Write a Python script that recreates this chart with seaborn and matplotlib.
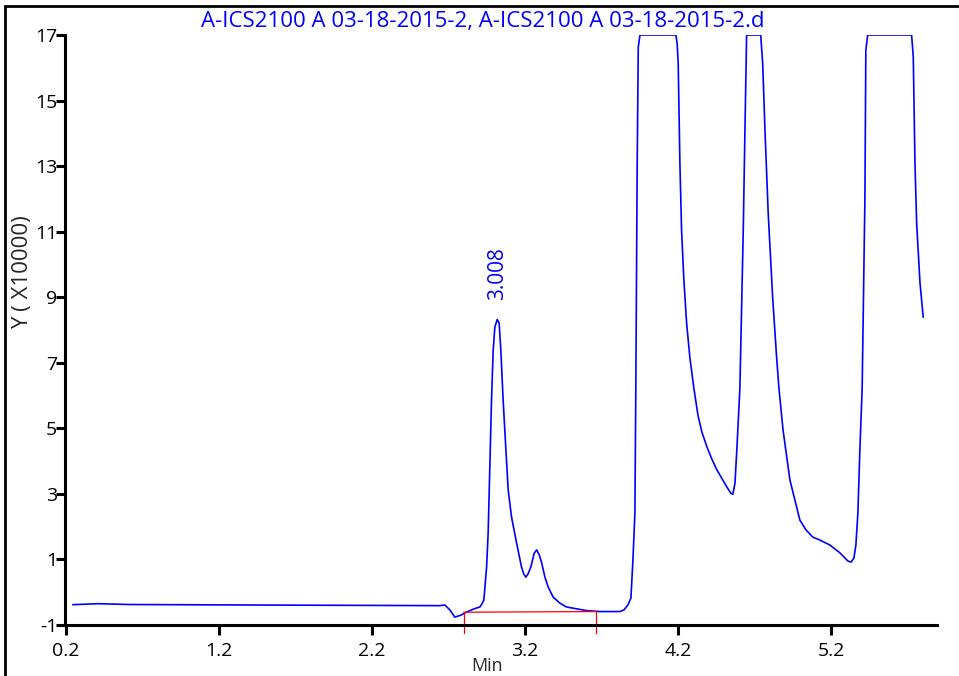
import matplotlib
matplotlib.use("Agg")
import matplotlib.pyplot as plt
import seaborn as sns
import pandas as pd
from matplotlib.patches import Rectangle

# ---- data ----
time_min = [0.246, 0.409, 0.618, 1.403, 2.383, 2.644, 2.677, 2.710, 2.742, 2.782,
            2.821, 2.867, 2.906, 2.919, 2.932, 2.950, 2.960, 2.971, 2.982, 2.993,
            3.004, 3.019, 3.032, 3.043, 3.058, 3.076, 3.091, 3.113, 3.146, 3.178,
            3.193, 3.206, 3.220, 3.239, 3.261, 3.277, 3.294, 3.310, 3.331, 3.352,
            3.385, 3.428, 3.471, 3.602, 3.690, 3.821, 3.847, 3.873, 3.893, 3.906,
            3.919, 3.925, 3.934, 3.941, 3.952, 4.187, 4.195, 4.202, 4.213, 4.224,
            4.239, 4.257, 4.278, 4.304, 4.331, 4.357, 4.390, 4.422, 4.455, 4.520,
            4.546, 4.559, 4.573, 4.586, 4.605, 4.627, 4.638, 4.649, 4.741, 4.754,
            4.769, 4.790, 4.819, 4.845, 4.860, 4.887, 4.932, 4.997, 5.037, 5.082,
            5.128, 5.193, 5.259, 5.311, 5.331, 5.350, 5.363, 5.376, 5.389, 5.404,
            5.422, 5.428, 5.440, 5.727, 5.738, 5.749, 5.760, 5.782, 5.803]
signal = [-0.38, -0.35, -0.375, -0.39, -0.405, -0.41, -0.39, -0.54, -0.76, -0.70,
          -0.60, -0.51, -0.45, -0.36, -0.24, 0.77, 1.80, 3.82, 5.86, 7.38,
          8.09, 8.32, 8.21, 7.38, 5.86, 4.34, 3.12, 2.29, 1.50, 0.77,
          0.55, 0.46, 0.55, 0.77, 1.19, 1.29, 1.14, 0.89, 0.46, 0.16,
          -0.15, -0.33, -0.45, -0.56, -0.59, -0.59, -0.54, -0.39, -0.18, 0.98,
          2.41, 6.23, 13.09, 16.63, 17.0, 17.0, 16.74, 16.13, 13.09, 11.04,
          9.52, 8.20, 7.17, 6.23, 5.40, 4.88, 4.43, 4.06, 3.73, 3.21,
          3.02, 2.99, 3.33, 4.43, 6.23, 11.04, 14.09, 17.0, 17.0, 16.13,
          14.09, 11.56, 9.00, 7.17, 6.23, 4.95, 3.42, 2.20, 1.90, 1.68,
          1.59, 1.44, 1.20, 0.95, 0.92, 1.04, 1.44, 2.41, 4.34, 6.23,
          12.05, 16.53, 17.0, 17.0, 16.33, 13.09, 11.26, 9.43, 8.39]

baseline_x = [2.80, 3.664]
baseline_y = [-0.61, -0.59]
baseline_drop = -1.24

peak_rt = 3.019
peak_height = 8.32
peak_label = "3.008"

x_ticks = [0.2, 1.2, 2.2, 3.2, 4.2, 5.2]
y_ticks = [-1, 1, 3, 5, 7, 9, 11, 13, 15, 17]

title = "A-ICS2100 A 03-18-2015-2, A-ICS2100 A 03-18-2015-2.d"
xlabel = "Min"
ylabel = "Y ( X10000)"

# ---- plot ----
sns.set_style("white")
plt.rcParams["font.family"] = ["Open Sans", "DejaVu Sans"]

W, H = 959, 676
fig = plt.figure(figsize=(W / 100, H / 100), dpi=100)
ax = fig.add_axes([65 / W, (H - 625) / H, (937 - 65) / W, (625 - 35) / H])

df = pd.DataFrame({"t": time_min, "y": signal})
sns.lineplot(data=df, x="t", y="y", ax=ax, color="#0000ff", linewidth=1.2,
             sort=False, estimator=None)

# red integration baseline
sns.lineplot(x=baseline_x, y=baseline_y, ax=ax, color="red", linewidth=0.9,
             sort=False, estimator=None)
for bx, by in zip(baseline_x, baseline_y):
    ax.plot([bx, bx], [by, baseline_drop], color="red", linewidth=0.9, clip_on=False)

ax.annotate(peak_label, xy=(peak_rt, peak_height), xytext=(0, 14),
            textcoords="offset points", rotation=90, ha="center", va="bottom",
            color="#0000ff", fontsize=15)

ax.set_xlim(0.195, 5.893)
ax.set_ylim(-1, 17)
ax.set_xticks(x_ticks)
ax.set_xticklabels([f"{v:.1f}" for v in x_ticks])
ax.set_yticks(y_ticks)
ax.set_yticklabels([str(v) for v in y_ticks])
ax.set_xlabel("")
ax.set_ylabel("")

for s in ["top", "right"]:
    ax.spines[s].set_visible(False)
for s in ["left", "bottom"]:
    ax.spines[s].set_color("black")
    ax.spines[s].set_linewidth(2.2)

ax.tick_params(axis="x", direction="out", length=7, width=2.2, pad=5,
               labelsize=14, colors="black", bottom=True)
ax.tick_params(axis="y", direction="out", length=6.5, width=2.2, pad=-1,
               labelsize=14, colors="black", left=True)

fig.text(483 / W, (H - 22) / H, title, ha="center", va="center",
         color="#0000ff", fontsize=16)
fig.text(487 / W, 1 / H, xlabel, ha="center", va="bottom", fontsize=13)
fig.text(23 / W, (H - 272) / H, ylabel, ha="center", va="center",
         rotation=90, fontsize=16)

# outer frame (extends beyond the right and bottom edges)
fig.add_artist(Rectangle((5 / W, -0.2), 1.3, 1.2 - 6 / H, transform=fig.transFigure,
                         fill=False, edgecolor="black", linewidth=2.0))

fig.savefig("out.png", dpi=100)
